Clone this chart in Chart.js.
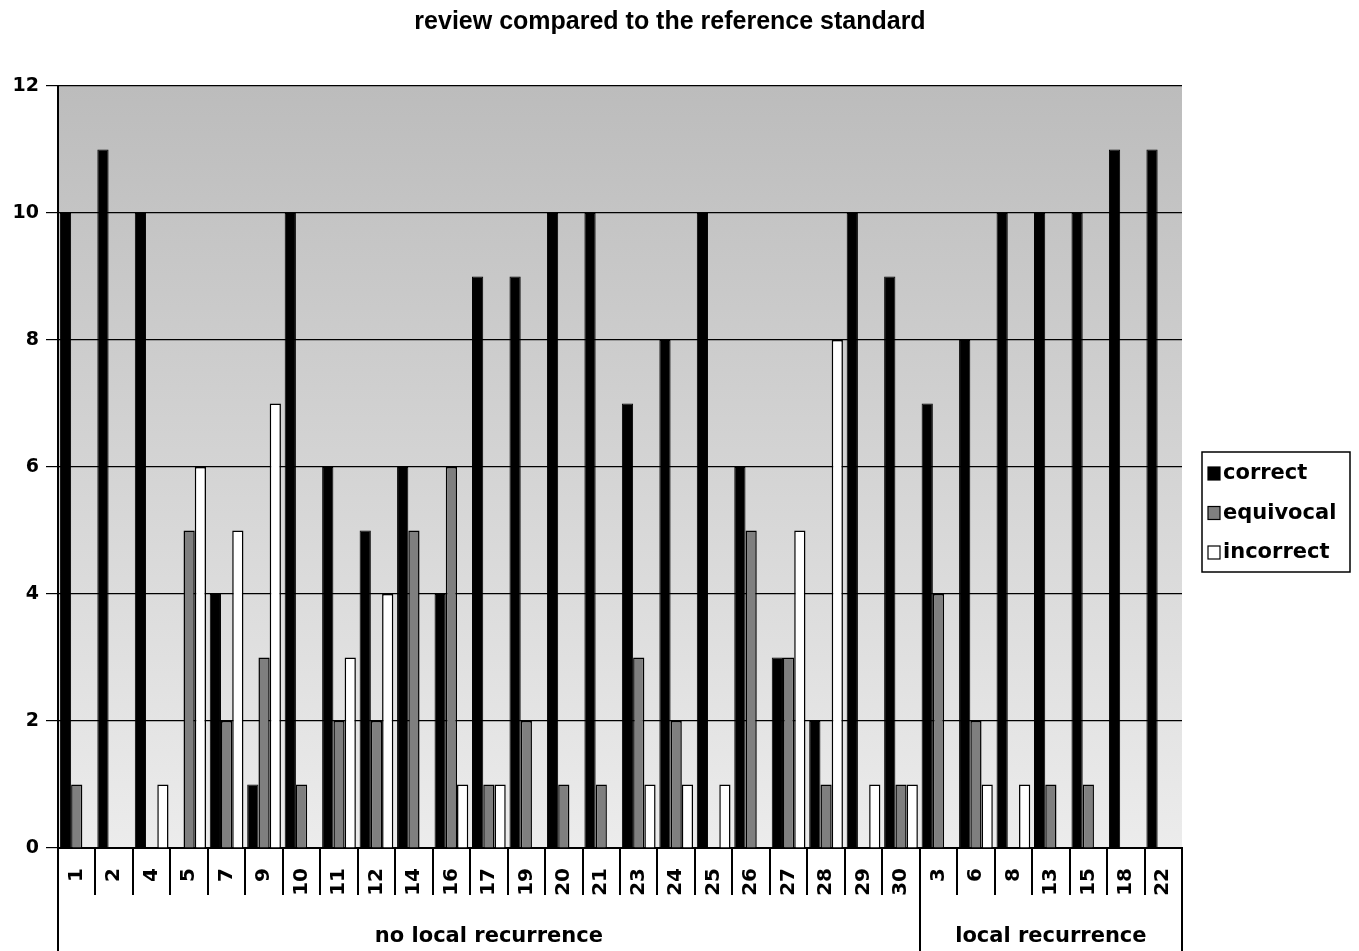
<!DOCTYPE html>
<html>
<head>
<meta charset="utf-8">
<script src="https://cdn.jsdelivr.net/npm/chart.js@4/dist/chart.umd.min.js"></script>
<style>
  html, body { margin: 0; padding: 0; background: #fff; }
  #wrap { width: 1359px; height: 951px; }
</style>
</head>
<body>
<div id="wrap"><canvas id="chart" width="1359" height="951"></canvas></div>
<script>
// patient ids along the x axis
const categories = ['1','2','4','5','7','9','10','11','12','14','16','17','19','20','21','23','24','25','26','27','28','29','30',
                    '3','6','8','13','15','18','22'];
const groupNames = ['no local recurrence', 'local recurrence'];
const groupSizes = [23, 7];

const correct   = [10,11,10,0,4,1,10,6,5,6,4,9,9,10,10,7,8,10,6,3,2,10,9, 7,8,10,10,10,11,11];
const equivocal = [1,0,0,5,2,3,1,2,2,5,6,1,2,1,1,3,2,0,5,3,1,0,1, 4,2,0,1,1,0,0];
const incorrect = [0,0,1,6,5,7,0,3,4,0,1,1,0,0,0,1,1,1,0,5,8,1,1, 0,1,1,0,0,0,0];

const yTicks = [0,2,4,6,8,10,12];
const titleText = 'review compared to the reference standard';

const HEAVY = "'DejaVu Sans', sans-serif";
const PLAIN = "'Liberation Sans', Arial, sans-serif";

const decor = {
  id: 'decor',
  beforeDraw(chart) {
    const {ctx, chartArea: a} = chart;
    ctx.save();
    ctx.fillStyle = '#fff';
    ctx.fillRect(0, 0, chart.width, chart.height);
    const g = ctx.createLinearGradient(0, a.top, 0, a.bottom);
    g.addColorStop(0, '#bcbcbc');
    g.addColorStop(1, '#ececec');
    ctx.fillStyle = g;
    ctx.fillRect(a.left, a.top, a.right - a.left, a.bottom - a.top);
    ctx.restore();
  },
  afterDraw(chart) {
    const {ctx, chartArea: a} = chart;
    const xs = chart.scales.x;
    const n = categories.length;
    const w = (xs.right - xs.left) / n;
    ctx.save();
    // title
    ctx.fillStyle = '#000';
    ctx.font = 'bold 25px ' + PLAIN;
    ctx.textAlign = 'center';
    ctx.textBaseline = 'middle';
    ctx.fillText(titleText, 670, 22);

    ctx.strokeStyle = '#000';
    ctx.lineWidth = 2;
    // separators between patient labels
    const groupEdges = [0];
    groupSizes.forEach((s, i) => groupEdges.push(groupEdges[i] + s));
    for (let i = 0; i <= n; i++) {
      const x = Math.round(xs.left + i * w);
      const isGroup = groupEdges.includes(i);
      ctx.beginPath();
      ctx.moveTo(x, a.bottom);
      ctx.lineTo(x, isGroup ? chart.height : a.bottom + 47);
      ctx.stroke();
    }
    // group labels
    ctx.font = 'bold 21px ' + HEAVY;
    for (let gi = 0; gi < groupNames.length; gi++) {
      const x0 = xs.left + groupEdges[gi] * w;
      const x1 = xs.left + groupEdges[gi + 1] * w;
      ctx.fillText(groupNames[gi], (x0 + x1) / 2, a.bottom + 89);
    }
    // legend
    const lx = a.right + 20, ly = 452, lw = 148, lh = 120;
    ctx.lineWidth = 1.5;
    ctx.strokeRect(lx, ly, lw, lh);
    ctx.textAlign = 'left';
    chart.data.datasets.forEach((ds, i) => {
      const yy = ly + 21 + i * 39.5;
      ctx.fillStyle = ds.backgroundColor;
      ctx.fillRect(lx + 6, yy - 6, 12, 13);
      ctx.lineWidth = 1.2;
      ctx.strokeRect(lx + 6, yy - 6, 12, 13);
      ctx.fillStyle = '#000';
      ctx.fillText(ds.label, lx + 21, yy + 1);
    });
    ctx.restore();
  }
};

new Chart(document.getElementById('chart'), {
  type: 'bar',
  data: {
    labels: categories,
    datasets: [
      {label: 'correct', data: correct, backgroundColor: '#000000', borderColor: '#000', borderWidth: 1},
      {label: 'equivocal', data: equivocal, backgroundColor: '#7f7f7f', borderColor: '#000', borderWidth: 1.5},
      {label: 'incorrect', data: incorrect, backgroundColor: '#ffffff', borderColor: '#000', borderWidth: 1.5}
    ]
  },
  options: {
    responsive: false,
    animation: false,
    layout: {padding: {left: 0, right: 177, top: 86, bottom: 0}},
    datasets: {bar: {categoryPercentage: 0.9, barPercentage: 1.0}},
    plugins: {
      legend: {display: false},
      tooltip: {enabled: false},
      title: {display: false}
    },
    scales: {
      x: {
        offset: true,
        grid: {display: false},
        border: {display: true, color: '#000', width: 2},
        ticks: {
          color: '#000',
          font: {family: HEAVY, size: 20, weight: 'bold'},
          minRotation: 90, maxRotation: 90,
          autoSkip: false,
          padding: 12
        },
        afterFit(s) { s.height = 103; }
      },
      y: {
        min: 0, max: 12,
        afterBuildTicks(s) { s.ticks = yTicks.map(v => ({value: v})); },
        grid: {color: '#000', lineWidth: 1.2, tickLength: 12, drawOnChartArea: true},
        border: {display: true, color: '#000', width: 2},
        ticks: {
          color: '#000',
          font: {family: HEAVY, size: 19, weight: 'bold'},
          padding: 7
        },
        afterFit(s) { s.width = 58; }
      }
    }
  },
  plugins: [decor]
});
</script>
</body>
</html>
